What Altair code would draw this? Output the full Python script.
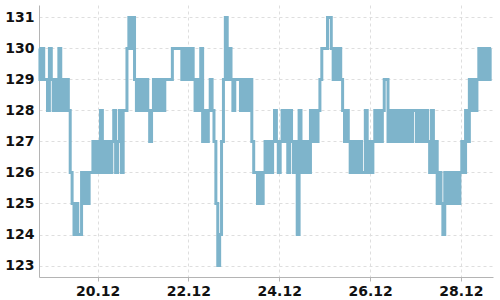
import altair as alt
import pandas as pd

# hourly readings, each row = 24 hours starting at 17:00
day1 = [130,129,130,129,129,128,130,129,128,129,128,130,128,129,128,129,128,126,125,124,125,124,124,126]
day2 = [125,126,125,126,126,127,126,127,126,128,126,127,126,127,126,127,128,126,127,128,126,128,128,130]
day3 = [131,130,131,129,128,129,128,129,128,129,128,127,128,129,128,129,128,129,128,129,129,129,129,130]
day4 = [130,130,130,130,129,130,129,130,129,130,129,128,129,128,130,127,128,127,128,129,128,127,125,123]
day5 = [124,127,129,131,129,130,129,128,129,129,129,128,129,128,129,128,129,127,126,126,125,126,125,126]
day6 = [127,126,127,126,127,128,127,126,127,128,127,128,126,128,127,126,127,124,128,126,127,126,127,126]
day7 = [128,127,128,127,128,129,130,130,130,131,131,130,129,130,129,130,129,128,127,128,127,126,127,126]
day8 = [127,126,127,126,126,128,126,127,126,127,128,127,128,127,128,129,129,127,128,127,128,127,128,127]
day9 = [128,127,128,127,128,127,128,128,127,128,127,128,127,128,127,126,128,126,127,125,126,125,124,126]
day10 = [125,126,125,126,125,126,125,126,127,126,128,127,129,128,129,128,129,130,129,130,129,130,129,130]

values = day1 + day2 + day3 + day4 + day5 + day6 + day7 + day8 + day9 + day10
times = pd.date_range("2023-12-18 17:00", periods=len(values), freq="h")
df = pd.DataFrame({"t": times.strftime("%Y-%m-%dT%H:%M:%S"), "v": values})

y_ticks = [123, 124, 125, 126, 127, 128, 129, 130, 131]
x_tick_days = [20, 22, 24, 26, 28]

x_vals = [alt.DateTime(year=2023, month=12, date=d) for d in x_tick_days]

chart = alt.Chart(df).mark_line(
    color="#7eb4cb", strokeWidth=3, interpolate="step"
).encode(
    x=alt.X(
        "t:T",
        scale=alt.Scale(domain=[alt.DateTime(year=2023, month=12, date=18, hours=17),
                                alt.DateTime(year=2023, month=12, date=28, hours=17)]),
        axis=alt.Axis(values=x_vals, format="%d.%m", title=None, tickSize=4,
                      labelPadding=3, labelFlush=False),
    ),
    y=alt.Y(
        "v:Q",
        scale=alt.Scale(domain=[122.63, 131.4], nice=False, zero=False),
        axis=alt.Axis(values=y_ticks, title=None, ticks=False, labelPadding=5),
    ),
).properties(
    width=454, height=272,
    autosize=alt.AutoSizeParams(type="none"),
    padding={"left": 39, "top": 5, "right": 7, "bottom": 23},
).configure_view(stroke=None).configure_axis(
    labelFont="DejaVu Sans", labelFontSize=14, labelFontWeight="bold",
    labelColor="#111111", domainColor="#b4b4b4", tickColor="#b4b4b4",
    gridColor="#dedede", gridDash=[3, 3], gridWidth=1,
)

chart.save("out.html", embed_options={"renderer": "svg", "actions": False})
